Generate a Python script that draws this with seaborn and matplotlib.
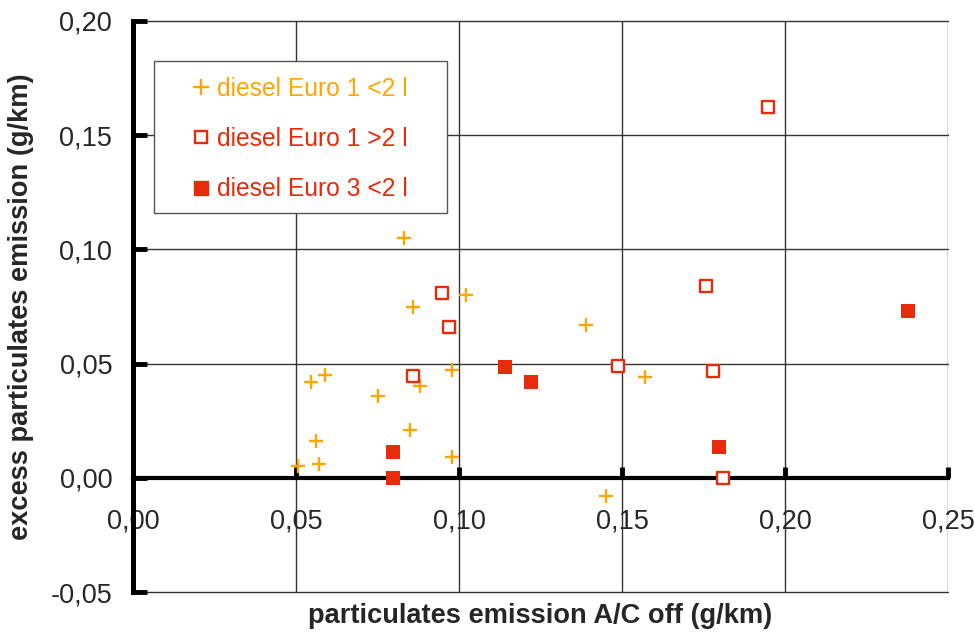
import matplotlib
matplotlib.use("Agg")
import matplotlib.pyplot as plt
from matplotlib.lines import Line2D
from matplotlib.patches import Rectangle
from matplotlib.ticker import FuncFormatter, MultipleLocator
import seaborn as sns
import pandas as pd

# diesel Euro 1 <2 l  (crosses)
e1_small_x = [0.0506, 0.057, 0.056, 0.0546, 0.059, 0.075, 0.083, 0.086, 0.088,
              0.085, 0.098, 0.098, 0.102, 0.139, 0.157, 0.145]
e1_small_y = [0.005, 0.006, 0.016, 0.042, 0.045, 0.036, 0.105, 0.075, 0.040,
              0.021, 0.047, 0.009, 0.080, 0.067, 0.044, -0.008]

# diesel Euro 1 >2 l  (open squares)
e1_big_x = [0.0948, 0.0969, 0.0859, 0.1758, 0.1488, 0.1779, 0.181, 0.1948]
e1_big_y = [0.0807, 0.0662, 0.0447, 0.0838, 0.0491, 0.0469, 0.0, 0.1623]

# diesel Euro 3 <2 l  (filled squares)
e3_small_x = [0.0798, 0.0798, 0.1141, 0.1221, 0.1798, 0.2377]
e3_small_y = [0.0114, 0.0, 0.0487, 0.0421, 0.0136, 0.0732]

labels = ["diesel Euro 1 <2 l", "diesel Euro 1 >2 l", "diesel Euro 3 <2 l"]
orange = "#FFA500"
red = "#E62A0A"

sns.set_style("white")
plt.rcParams['font.family'] = ['Liberation Sans', 'DejaVu Sans']

fig = plt.figure(figsize=(9.75, 6.37), dpi=100)
ax = fig.add_axes([133 / 975, 1 - 592 / 637, 815 / 975, 571 / 637])

df1 = pd.DataFrame({'x': e1_small_x, 'y': e1_small_y})
df2 = pd.DataFrame({'x': e1_big_x, 'y': e1_big_y})
df3 = pd.DataFrame({'x': e3_small_x, 'y': e3_small_y})

sns.scatterplot(data=df1, x='x', y='y', marker='+', s=115, color=orange,
                linewidth=1.7, ax=ax, zorder=5)
sns.scatterplot(data=df2, x='x', y='y', marker='s', s=80, facecolor='white',
                edgecolor=red, linewidth=1.7, ax=ax, zorder=5)
sns.scatterplot(data=df3, x='x', y='y', marker='s', s=110, color=red,
                edgecolor=red, linewidth=0, ax=ax, zorder=5)

ax.set_xlim(0, 0.25)
ax.set_ylim(-0.05, 0.20)
ax.xaxis.set_major_locator(MultipleLocator(0.05))
ax.yaxis.set_major_locator(MultipleLocator(0.05))
fmt = FuncFormatter(lambda v, p: f"{v:.2f}".replace('.', ','))
ax.xaxis.set_major_formatter(fmt)
ax.yaxis.set_major_formatter(fmt)

ax.grid(True, color='#333333', linewidth=1.0, zorder=0)
ax.set_axisbelow(True)
for gl in ax.get_xgridlines() + ax.get_ygridlines():
    gl.set_clip_on(False)

for s in ['top', 'right']:
    ax.spines[s].set_visible(False)
ax.spines['left'].set_linewidth(3.6)
ax.spines['left'].set_color('black')
ax.spines['left'].set_zorder(3)
ax.spines['bottom'].set_position(('data', 0))
ax.spines['bottom'].set_linewidth(3.0)
ax.spines['bottom'].set_color('black')
ax.spines['bottom'].set_zorder(3)

ax.tick_params(axis='x', direction='in', length=8, width=3.5, pad=22,
               labelsize=19.5, color='black')
ax.tick_params(axis='y', direction='in', length=10, width=3.5, pad=15,
               labelsize=19.5, color='black', left=True)
ax.tick_params(axis='x', bottom=True)

ax.set_xlabel("particulates emission A/C off (g/km)", fontsize=19.6,
              fontweight='bold')
ax.set_ylabel("excess particulates emission (g/km)", fontsize=19.6,
              fontweight='bold')
ax.xaxis.set_label_coords(0.5, -0.02)
ax.yaxis.set_label_coords(-0.122, 0.5)

# legend box drawn separately so padding matches the original
box = Rectangle((21 / 815, (592 - 213) / 571), 293 / 815, 152 / 571,
                transform=ax.transAxes, facecolor='white', edgecolor='#555555',
                linewidth=1.0, zorder=6)
ax.add_patch(box)

handles = [
    Line2D([], [], marker='+', linestyle='none', color=orange, markersize=11,
           markeredgewidth=1.7),
    Line2D([], [], marker='s', linestyle='none', markerfacecolor='white',
           markeredgecolor=red, markersize=8, markeredgewidth=1.7),
    Line2D([], [], marker='s', linestyle='none', color=red, markersize=9.5),
]
leg = ax.legend(handles, labels, loc='upper left',
                bbox_to_anchor=((189 - 133) / 815, (592 - 77) / 571),
                frameon=False, fontsize=17.7, borderpad=0, borderaxespad=0,
                handlelength=1.0, handletextpad=0.12, labelspacing=1.06,
                labelcolor=[orange, red, red])
leg.set_zorder(7)

fig.savefig("out.png", dpi=100)
